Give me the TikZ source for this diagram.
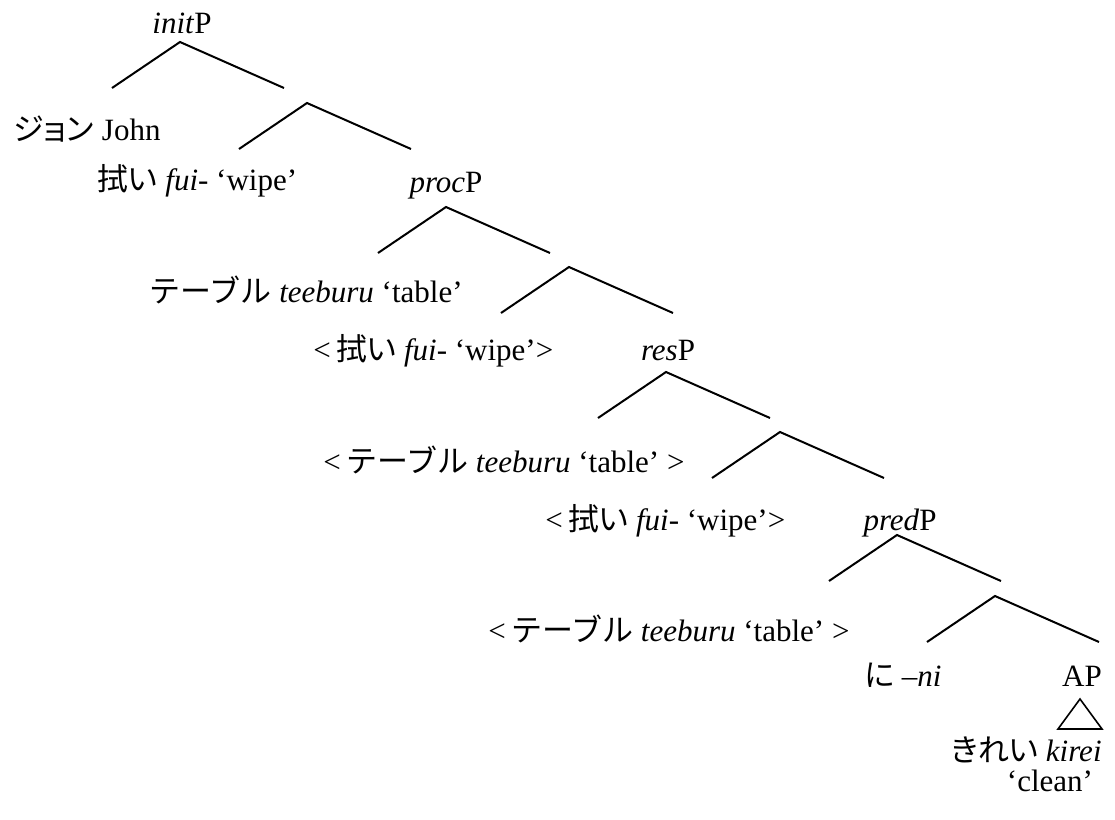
\documentclass[tikz,border=0pt]{standalone}
\usepackage{fontspec}
\setmainfont{Liberation Serif}
\newfontfamily\jp[RawFeature=+palt]{Noto Sans CJK JP}
\newfontfamily\jpfull{Noto Sans CJK JP}
\usetikzlibrary{positioning}

\begin{document}
\begin{tikzpicture}[
    x=0.5pt, y=-0.5pt,
    font=\fontsize{15.5}{18}\selectfont,
    lab/.style={inner sep=0pt, anchor=base},
    branch/.style={line width=1pt}
  ]
    \useasboundingbox (0,0) rectangle (1115,820);
    % forks: apex, left end, right end
    \foreach \fork/\x/\y in {init/180/42, initbar/307/103, proc/446/207,
      procbar/569/267, res/666/372, resbar/780/432, pred/897/535,
      predbar/995/596}{
      \coordinate (\fork) at (\x,\y);
      \coordinate (\fork-l) at (\x-68,\y+46);
      \coordinate (\fork-r) at (\x+104,\y+46);
      \draw[branch] (\fork-l) -- (\fork) -- (\fork-r);
    }
    % labels
    \node[lab] (initP) at (182,33) {\textit{init}P};
    \node[lab, anchor=base west] (john) at (13,140) {{\jp ジョン} John};
    \node[lab, anchor=base west] (wipe1) at (97,190) {{\jp 拭い} \textit{fui}- ‘wipe’};
    \node[lab] (procP) at (446,192) {\textit{proc}P};
    \node[lab, anchor=base west] (table1) at (149,302) {{\jpfull テーブル} \textit{teeburu} ‘table’};
    \node[lab, anchor=base west] (wipe2) at (313,360) {<\,{\jp 拭い} \textit{fui}- ‘wipe’>};
    \node[lab] (resP) at (668,360) {\textit{res}P};
    \node[lab, anchor=base west] (table2) at (323,472) {<\,{\jpfull テーブル} \textit{teeburu} ‘table’ >};
    \node[lab, anchor=base west] (wipe3) at (545,530) {<\,{\jp 拭い} \textit{fui}- ‘wipe’>};
    \node[lab] (predP) at (900,530) {\textit{pred}P};
    \node[lab, anchor=base west] (table3) at (488,641) {<\,{\jpfull テーブル} \textit{teeburu} ‘table’ >};
    \node[lab, anchor=base east] (ni) at (942,686) {{\jp に} \textit{--ni}};
    \node[lab] (AP) at (1082,686) {AP};
    % triangle under AP
    \coordinate (tri-top) at (1080,699);
    \coordinate (tri-bl) at (1058,729);
    \coordinate (tri-br) at (1102,729);
    \draw[line width=0.8pt] (tri-top) -- (tri-bl) -- (tri-br) -- cycle;
    \node[lab, anchor=base east] (kirei) at (1102,761) {{\jp きれい} \textit{kirei}};
    \node[lab] (clean) at (1050,791) {‘clean’};
\end{tikzpicture}
\end{document}
